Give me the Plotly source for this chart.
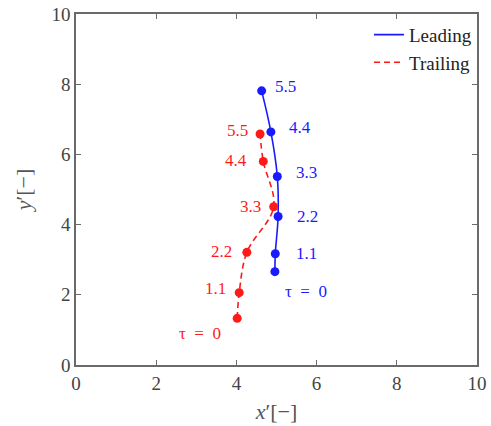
import plotly.graph_objects as go

# Trajectories of the leading and trailing points at successive times tau
tau_labels = ["τ\u2002=\u20020", "1.1", "2.2", "3.3", "4.4", "5.5"]

lead_x = [4.96, 4.97, 5.04, 5.02, 4.86, 4.63]
lead_y = [2.66, 3.17, 4.23, 5.37, 6.64, 7.81]

trail_x = [4.02, 4.07, 4.26, 4.93, 4.67, 4.59]
trail_y = [1.33, 2.06, 3.21, 4.51, 5.80, 6.58]

x_ticks = [0, 2, 4, 6, 8, 10]
y_ticks = [0, 2, 4, 6, 8, 10]

BLUE = "#1a1aff"
RED = "#ff1a1a"
SERIF = "Liberation Serif, Times New Roman, serif"

fig = go.Figure()
fig.add_trace(go.Scatter(
    x=lead_x, y=lead_y, mode="lines+markers", name="Leading", showlegend=False,
    line=dict(color=BLUE, width=1.6, shape="spline", smoothing=1),
    marker=dict(color=BLUE, size=9),
))
fig.add_trace(go.Scatter(
    x=trail_x, y=trail_y, mode="lines+markers", name="Trailing", showlegend=False,
    line=dict(color=RED, width=1.6, dash="6px,4px", shape="spline", smoothing=1),
    marker=dict(color=RED, size=9),
))
# Legend entries show the line style only
fig.add_trace(go.Scatter(x=[None], y=[None], mode="lines", name="Leading",
                         line=dict(color=BLUE, width=1.6)))
fig.add_trace(go.Scatter(x=[None], y=[None], mode="lines", name="Trailing",
                         line=dict(color=RED, width=1.6, dash="6px,4px")))

# Time labels: leading to the right of its points, trailing to the left
lead_shift = [(31, -20), (31, 0), (29, 0), (29, 4), (29, 4), (24, 4)]
trail_shift = [(-37, -15), (-24, 4), (-25, 1), (-23, 0), (-27, 1), (-23, 4)]

for txt, x, y, (dx, dy) in zip(tau_labels, lead_x, lead_y, lead_shift):
    fig.add_annotation(x=x, y=y, text=txt, showarrow=False, xshift=dx, yshift=dy,
                       font=dict(family=SERIF, size=17, color=BLUE))
for txt, x, y, (dx, dy) in zip(tau_labels, trail_x, trail_y, trail_shift):
    fig.add_annotation(x=x, y=y, text=txt, showarrow=False, xshift=dx, yshift=dy,
                       font=dict(family=SERIF, size=17, color=RED))

axis_common = dict(
    showline=True, linecolor="#6a6a6a", linewidth=1.5, mirror="ticks",
    ticks="inside", ticklen=5, tickcolor="#6a6a6a", tickwidth=1,
    showgrid=False, zeroline=False, automargin=False,
    tickfont=dict(family=SERIF, size=19, color="#444444"),
)

fig.update_xaxes(range=[0, 10], tickvals=x_ticks, **axis_common,
                 title=dict(text="<i>x</i>′[−]", font=dict(family=SERIF, size=22, color="#555555"),
                            standoff=11))
fig.update_yaxes(range=[0, 10], tickvals=y_ticks, **axis_common,
                 title=dict(text="<i>y</i>′[−]", font=dict(family=SERIF, size=22, color="#555555"),
                            standoff=14))

fig.update_layout(
    width=491, height=426,
    margin=dict(l=76, r=14, t=14, b=61),
    paper_bgcolor="white", plot_bgcolor="white",
    showlegend=True,
    legend=dict(x=1, y=0.995, xanchor="right", yanchor="top",
                bgcolor="rgba(255,255,255,0)", borderwidth=0,
                font=dict(family=SERIF, size=19, color="#222222"),
                tracegroupgap=0, itemwidth=30),
)

fig.write_html("out.html")
